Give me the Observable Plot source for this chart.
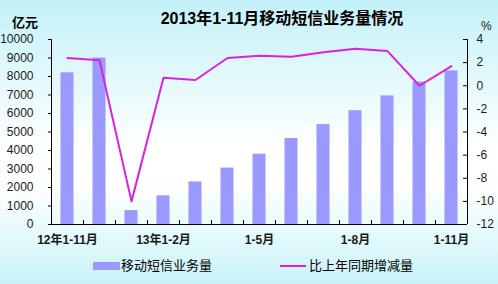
<!DOCTYPE html>
<html><head><meta charset="utf-8">
<script src="https://cdn.jsdelivr.net/npm/d3@7"></script>
<script src="https://cdn.jsdelivr.net/npm/@observablehq/plot@0.6"></script>
<style>
body{margin:0;}
#chart{position:relative;width:498px;height:284px;overflow:hidden;
 background:linear-gradient(to bottom,#c3f1f8 0%,#ffffff 52%,#ffffff 66%,#c8f3f8 100%);
 font-family:"Liberation Sans",Arial,"Noto Sans CJK SC",sans-serif;color:#1a1a1a;}
#chart svg{position:absolute;left:0;top:0;}
.abs{position:absolute;white-space:nowrap;line-height:1;}
</style></head>
<body><div id="chart"></div>
<script>
const categories = ["12年1-11月","12年1-12月","13年1月","13年1-2月","1-3月","1-4月","1-5月","1-6月","1-7月","1-8月","1-9月","1-10月","1-11月"];
const volume = [8200,9000,750,1550,2300,3050,3800,4650,5400,6150,6950,7700,8300];
const change = [2.4,2.2,-10.0,0.7,0.5,2.4,2.6,2.5,2.9,3.2,3.0,0.0,1.7];
const xTickLabels = ["12年1-11月","13年1-2月","1-5月","1-8月","1-11月"];
const leftTicks = [0,1000,2000,3000,4000,5000,6000,7000,8000,9000,10000];
const rightTicks = [4,2,0,-2,-4,-6,-8,-10,-12];
const titleText = "2013年1-11月移动短信业务量情况";
const leftUnit = "亿元";
const rightUnit = "%";
const seriesNames = ["移动短信业务量","比上年同期增减量"];

const barColor = "#9999ff";
const lineColor = "#dd22dd";

const data = categories.map((c,i)=>({cat:c, volume:volume[i], change:change[i]}));
const toLeft = d3.scaleLinear([-12,4],[0,10000]);

const chart = Plot.plot({
  width:498, height:284,
  marginTop:39, marginBottom:60, marginLeft:51, marginRight:31,
  style:{background:"transparent", fontFamily:'"Liberation Sans",Arial,"Noto Sans CJK SC",sans-serif', fontSize:"12px", color:"#1a1a1a"},
  x:{domain:categories, padding:0, axis:null, label:null},
  y:{domain:[0,10000], axis:null, label:null},
  marks:[
    Plot.barY(data,{x:"cat", y:"volume", fill:barColor, insetLeft:9.5, insetRight:9.5}),
    Plot.line(data,{x:"cat", y:d=>toLeft(d.change), stroke:lineColor, strokeWidth:2}),
    Plot.ruleY([0],{stroke:"#000"}),
    Plot.ruleX([categories[0]],{dx:-16, stroke:"#000"}),
    Plot.ruleX([categories[categories.length-1]],{dx:16, stroke:"#000"}),
    Plot.ruleX(categories.slice(1),{dx:-16, insetTop:181, stroke:"#000"}),
    Plot.axisY(leftTicks,{anchor:"left", label:null, tickSize:3, tickPadding:15, fontSize:12, stroke:"#000",
      tickFormat:d=>String(d)}),
    Plot.tickY(rightTicks.map(d=>toLeft(d)),{insetLeft:412, stroke:"#000"}),
    Plot.axisY(rightTicks.map(d=>toLeft(d)),{anchor:"right", label:null, tickSize:0, tickPadding:9, fontSize:12,
      tickFormat:d=>String(Math.round(toLeft.invert(d)))}),
    Plot.axisX(xTickLabels,{anchor:"bottom", label:null, tickSize:0, tickPadding:11, fontSize:12, fontWeight:"bold"})
  ]
});
const root = document.getElementById("chart");
root.appendChild(chart);

function addText(txt, style){
  const d=document.createElement("div"); d.className="abs"; d.textContent=txt;
  Object.assign(d.style, style); root.appendChild(d); return d;
}
addText(titleText,{left:"132px",width:"300px",textAlign:"center",top:"11px",fontSize:"16px",fontWeight:"bold",color:"#000"});
addText(leftUnit,{left:"12px",top:"16px",fontSize:"13px",fontWeight:"bold",color:"#000"});
addText(rightUnit,{left:"481px",top:"20px",fontSize:"12px",color:"#1a1a1a"});
// legend
const sw1=document.createElement("div"); sw1.className="abs";
Object.assign(sw1.style,{left:"93px",top:"262px",width:"27px",height:"8px",background:barColor}); root.appendChild(sw1);
addText(seriesNames[0],{left:"121px",top:"259px",fontSize:"13px",color:"#000"});
const sw2=document.createElement("div"); sw2.className="abs";
Object.assign(sw2.style,{left:"280px",top:"265px",width:"26px",height:"2px",background:lineColor}); root.appendChild(sw2);
addText(seriesNames[1],{left:"309px",top:"259px",fontSize:"13px",color:"#000"});
</script>
</body></html>
